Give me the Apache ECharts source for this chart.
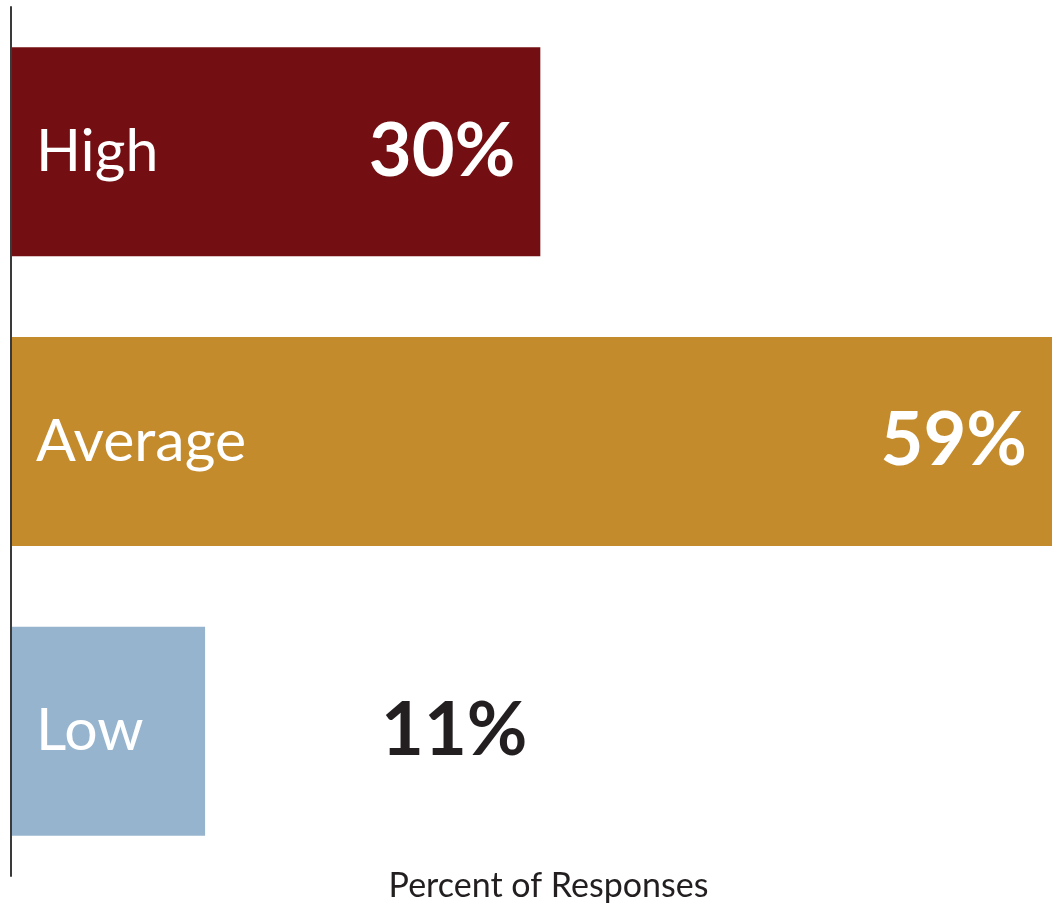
<!DOCTYPE html>
<html>
<head>
<meta charset="utf-8">
<script src="https://cdn.jsdelivr.net/npm/echarts@6/dist/echarts.min.js"></script>
<style>
html,body{margin:0;padding:0;background:#fff;}
#chart{width:1052px;height:906px;}
</style>
</head>
<body>
<div id="chart"></div>
<script>
var categories = ["High", "Average", "Low"];
var values = [30, 59, 11];
var barColors = ["#730f12", "#c48b2d", "#97b4ce"];
var axisTitle = "Percent of Responses";

var chart = echarts.init(document.getElementById('chart'));

var data = values.map(function(v, i){
	var item = {value: v, itemStyle: {color: barColors[i]}};
	// the short bar keeps its number outside, in dark text
	if (i == 2) {
		item.label = {position: [370, '50%'], align: 'left', verticalAlign: 'middle', color: '#231f20'};
	}
	return item;
});

var option = {
	animation: false,
	grid: {left: 11, right: 0, top: 7, bottom: 30, outerBoundsMode: 'none', containLabel: false},
	xAxis: {
		type: 'value', min: 0, max: 59,
		axisLine: {show: false}, axisTick: {show: false},
		axisLabel: {show: false}, splitLine: {show: false},
		name: axisTitle, nameLocation: 'middle', nameGap: -7,
		nameTextStyle: {fontFamily: 'Lato', fontSize: 34, color: '#231f20', padding: [0, 0, 0, 34]}
	},
	yAxis: {
		type: 'category', data: categories, inverse: true,
		axisLine: {show: true, lineStyle: {color: '#3a3a3a', width: 2}},
		axisTick: {show: false},
		axisLabel: {inside: true, margin: 25, color: '#fff', fontFamily: 'Lato', fontSize: 59, align: 'left'},
		z: 5
	},
	series: [{
		type: 'bar',
		data: data,
		barWidth: 209,
		label: {
			show: true, position: 'insideRight', distance: 25,
			color: '#fff', fontFamily: 'Lato', fontWeight: 'bold', fontSize: 74,
			formatter: function(p){ return p.value + '%'; }
		}
	}]
};
chart.setOption(option);
</script>
</body>
</html>
